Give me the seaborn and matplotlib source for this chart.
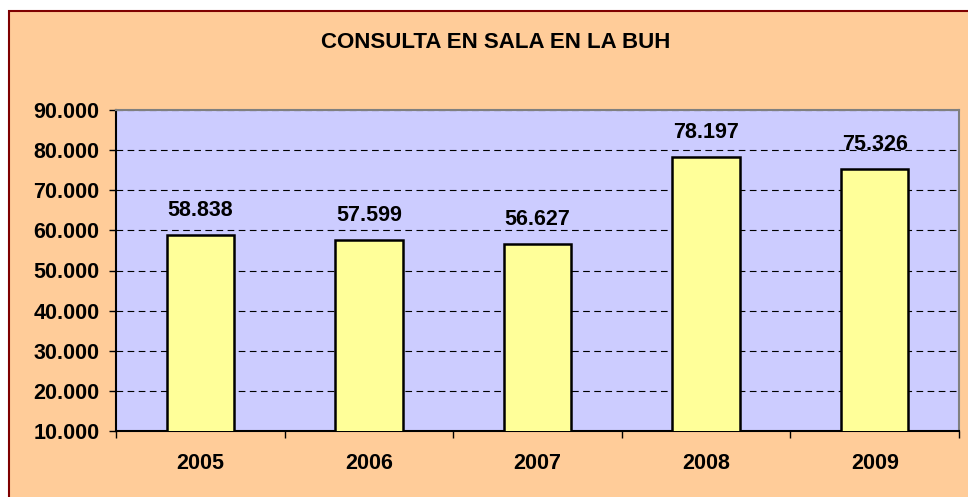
import matplotlib
matplotlib.use("Agg")
import matplotlib.pyplot as plt
import matplotlib.patches as mpatches
import matplotlib.ticker as mticker
import pandas as pd
import seaborn as sns

# data
years = ["2005", "2006", "2007", "2008", "2009"]
consultas = [58838, 57599, 56627, 78197, 75326]
y_ticks = [10000, 20000, 30000, 40000, 50000, 60000, 70000, 80000, 90000]

df = pd.DataFrame({"year": years, "consultas": consultas})

sns.set_theme(style="white")
plt.rcParams["font.family"] = ["Liberation Sans", "DejaVu Sans"]
plt.rcParams["text.color"] = "black"
plt.rcParams["xtick.color"] = "black"
plt.rcParams["ytick.color"] = "black"

fig = plt.figure(figsize=(9.68, 4.97), dpi=100)
fig.patch.set_facecolor("white")

# peach chart area with dark red border (Excel style), only top/left edges visible
bg = mpatches.Rectangle((9 / 968, -0.1), 1.2, 1.1 - 11 / 497, transform=fig.transFigure,
                        facecolor="#FFCC99", edgecolor="#7F0000", linewidth=1.5,
                        zorder=-10)
fig.patches.append(bg)

ax = fig.add_axes([116 / 968, 1 - 431 / 497, (959 - 116) / 968, (431 - 110) / 497])
ax.set_facecolor("#CCCCFF")

sns.barplot(data=df, x="year", y="consultas", color="#FFFF99", width=0.4,
            edgecolor="black", linewidth=1.8, saturation=1, ax=ax, zorder=3)

ax.set_ylim(10000, 90000)
ax.set_xlim(-0.5, 4.5)
ax.set_yticks(y_ticks)
ax.yaxis.set_major_formatter(mticker.FuncFormatter(lambda v, p: f"{int(v):,}".replace(",", ".")))
ax.grid(axis="y", color="black", linestyle=(0, (6, 4)), linewidth=0.8, zorder=1)
ax.set_axisbelow(True)

# x ticks at category boundaries, labels centered under bars
ax.set_xticks([i - 0.5 for i in range(6)], minor=True)
ax.tick_params(axis="x", which="minor", length=5, width=1, color="black", direction="out", bottom=True)
ax.tick_params(axis="x", which="major", length=0, pad=16, labelsize=15.5, labelcolor="black")
ax.tick_params(axis="y", which="major", length=5, width=1, color="black", direction="out", left=True,
               pad=7, labelsize=15.5, labelcolor="black")
for lab in ax.get_xticklabels() + ax.get_yticklabels():
    lab.set_fontweight("bold")

ax.set_xlabel("")
ax.set_ylabel("")

for side in ["left", "bottom"]:
    ax.spines[side].set_color("black")
    ax.spines[side].set_linewidth(1.5)
for side in ["top", "right"]:
    ax.spines[side].set_color("#808080")
    ax.spines[side].set_linewidth(1.5)

for i, v in enumerate(consultas):
    ax.annotate(f"{v:,}".replace(",", "."), (i, v), xytext=(0, 10), textcoords="offset points",
                ha="center", va="bottom", fontsize=15.5, fontweight="bold", color="black")

fig.text(496 / 968, 1 - 42 / 497, "CONSULTA EN SALA EN LA BUH", ha="center", va="center",
         fontsize=16, fontweight="bold", color="black")

fig.savefig("out.png", dpi=100)
